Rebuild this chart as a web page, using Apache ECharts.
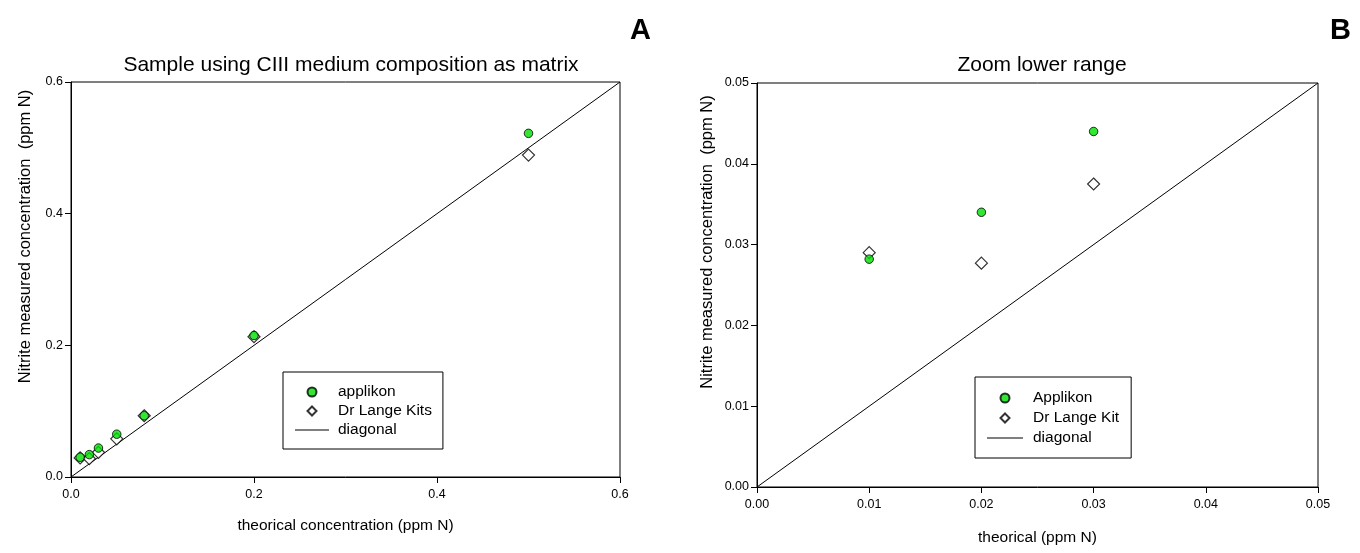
<!DOCTYPE html>
<html>
<head>
<meta charset="utf-8">
<script src="https://cdn.jsdelivr.net/npm/echarts@6/dist/echarts.min.js"></script>
<style>
html,body{margin:0;padding:0;background:#fff;}
#chart{width:1360px;height:553px;}
</style>
</head>
<body>
<div id="chart"></div>
<script>
// Panel A data
const theoA = [0.01, 0.02, 0.03, 0.05, 0.08, 0.2, 0.5];
const applikonA = [0.030, 0.034, 0.044, 0.065, 0.093, 0.215, 0.522];
const langeA = [0.029, 0.028, 0.0375, 0.058, 0.093, 0.213, 0.489];
const diagA = [0, 0.6];

// Panel B data
const theoB = [0.01, 0.02, 0.03];
const applikonB = [0.0282, 0.0340, 0.0440];
const langeB = [0.0290, 0.0277, 0.0375];
const diagB = [0, 0.05];

const pairs = (xs, ys) => xs.map((x, i) => [x, ys[i]]);
const FONT = 'Liberation Sans, Arial, sans-serif';

const chart = echarts.init(document.getElementById('chart'));

function axis(gridIndex, max, interval, decimals, name, isY, gap) {
  return {
    type: 'value', gridIndex, min: 0, max, interval,
    name, nameLocation: 'middle', nameGap: gap,
    nameTextStyle: isY
      ? { color: '#000', fontSize: 16.5, fontFamily: FONT, padding: [0, 0, 0, 86] }
      : { color: '#000', fontSize: 15.5, fontFamily: FONT },
    axisLine: { show: true, onZero: false, lineStyle: { color: '#000', width: 1 } },
    axisTick: { show: true, inside: false, length: 6, lineStyle: { color: '#000' } },
    axisLabel: { color: '#000', fontSize: 12.5, fontFamily: FONT, margin: isY ? 8 : 11,
      formatter: v => v.toFixed(decimals) },
    splitLine: { show: false }
  };
}

const green = { color: '#00e000', borderColor: '#000', borderWidth: 1 };
const white = { color: '#fff', borderColor: '#000', borderWidth: 1.2 };
const DIAMOND = 'path://M5,0 L10,5 L5,10 L0,5 Z';
const LINE = 'path://M0,0 L34,0 L34,1 L0,1 Z';

chart.setOption({
  animation: false,
  backgroundColor: '#fff',
  textStyle: { fontFamily: FONT },
  title: [
    { text: 'Sample using CIII medium composition as matrix', left: 346, top: 50, textAlign: 'center',
      textStyle: { fontSize: 21, fontWeight: 'normal', color: '#000', fontFamily: FONT } },
    { text: 'Zoom lower range', left: 1037, top: 50, textAlign: 'center',
      textStyle: { fontSize: 21, fontWeight: 'normal', color: '#000', fontFamily: FONT } },
    { text: 'A', left: 625, top: 11,
      textStyle: { fontSize: 29, fontWeight: 'bold', color: '#000', fontFamily: FONT } },
    { text: 'B', left: 1325, top: 11,
      textStyle: { fontSize: 29, fontWeight: 'bold', color: '#000', fontFamily: FONT } }
  ],
  grid: [
    { left: 71, top: 82, width: 549, height: 395, show: true, borderColor: '#000', borderWidth: 1, backgroundColor: 'transparent' },
    { left: 757, top: 83, width: 561, height: 404, show: true, borderColor: '#000', borderWidth: 1, backgroundColor: 'transparent' }
  ],
  xAxis: [
    axis(0, 0.6, 0.2, 1, 'theorical concentration (ppm N)', false, 41),
    axis(1, 0.05, 0.01, 2, 'theorical (ppm N)', false, 43)
  ],
  yAxis: [
    axis(0, 0.6, 0.2, 1, 'Nitrite measured concentration  (ppm N)', true, 37),
    axis(1, 0.05, 0.01, 2, 'Nitrite measured concentration  (ppm N)', true, 41)
  ],
  legend: [
    {
      data: [
        { name: 'applikon', icon: 'circle' },
        { name: 'Dr Lange Kits', icon: DIAMOND },
        { name: 'diagonal', icon: LINE }
      ],
      orient: 'vertical', left: 283, top: 372,
      borderColor: '#000', borderWidth: 1, symbolKeepAspect: true,
      padding: [12, 11, 11, 12], itemGap: 3, itemWidth: 34, itemHeight: 9,
      textStyle: { color: '#000', fontSize: 15.5, lineHeight: 16, fontFamily: FONT, padding: [0, 0, 0, 4] },
      selectedMode: false
    },
    {
      data: [
        { name: 'Applikon', icon: 'circle' },
        { name: 'Dr Lange Kit', icon: DIAMOND },
        { name: 'diagonal', icon: LINE }
      ],
      orient: 'vertical', left: 975, top: 377,
      borderColor: '#000', borderWidth: 1, symbolKeepAspect: true,
      padding: [13, 12, 12, 12], itemGap: 4, itemWidth: 36, itemHeight: 9,
      textStyle: { color: '#000', fontSize: 15.5, lineHeight: 16, fontFamily: FONT, padding: [0, 0, 0, 5] },
      selectedMode: false
    }
  ],
  series: [
    { name: 'diagonal', type: 'line', xAxisIndex: 0, yAxisIndex: 0, data: pairs(diagA, diagA),
      symbol: 'none', lineStyle: { color: '#000', width: 1 }, itemStyle: { color: '#000' }, z: 1 },
    { name: 'Dr Lange Kits', type: 'scatter', xAxisIndex: 0, yAxisIndex: 0, data: pairs(theoA, langeA),
      symbol: 'diamond', symbolSize: 12, itemStyle: white, z: 2 },
    { name: 'applikon', type: 'scatter', xAxisIndex: 0, yAxisIndex: 0, data: pairs(theoA, applikonA),
      symbol: 'circle', symbolSize: 8.5, itemStyle: green, z: 3 },

    { name: 'diagonal', type: 'line', xAxisIndex: 1, yAxisIndex: 1, data: pairs(diagB, diagB),
      symbol: 'none', lineStyle: { color: '#000', width: 1 }, itemStyle: { color: '#000' }, z: 1 },
    { name: 'Dr Lange Kit', type: 'scatter', xAxisIndex: 1, yAxisIndex: 1, data: pairs(theoB, langeB),
      symbol: 'diamond', symbolSize: 12, itemStyle: white, z: 2 },
    { name: 'Applikon', type: 'scatter', xAxisIndex: 1, yAxisIndex: 1, data: pairs(theoB, applikonB),
      symbol: 'circle', symbolSize: 8.5, itemStyle: green, z: 3 }
  ]
});
</script>
</body>
</html>
